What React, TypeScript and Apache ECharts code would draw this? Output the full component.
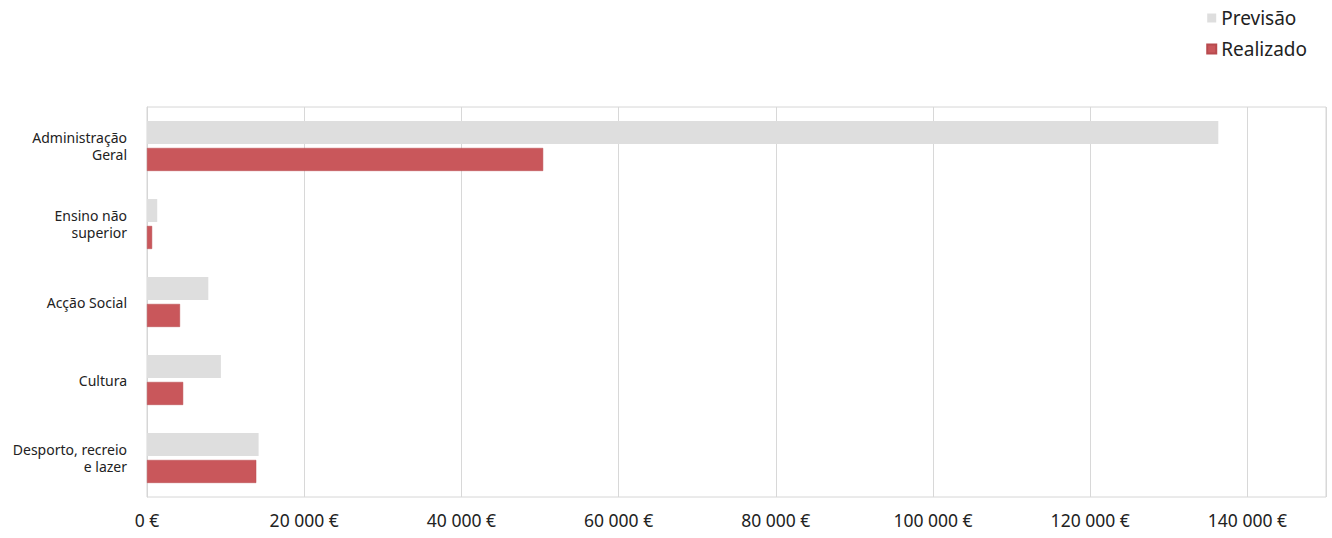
import React, { useEffect, useRef } from "react";
import * as echarts from "echarts";

const categories = [
  "Administração\nGeral",
  "Ensino não\nsuperior",
  "Acção Social",
  "Cultura",
  "Desporto, recreio\ne lazer",
];
const previsao = [136300, 1300, 7800, 9400, 14200];
const realizado = [50400, 650, 4200, 4600, 13900];
const seriesNames = ["Previsão", "Realizado"];

const FONT = "'Noto Sans', 'DejaVu Sans', sans-serif";

function fmt(v: number): string {
  return String(Math.round(v)).replace(/\B(?=(\d{3})+(?!\d))/g, " ") + " €";
}

export default function App() {
  const ref = useRef<HTMLDivElement>(null);
  useEffect(() => {
    if (!ref.current) return;
    const chart = echarts.init(ref.current, undefined, { renderer: "svg" });
    chart.setOption({
      animation: false,
      backgroundColor: "#ffffff",
      textStyle: { fontFamily: FONT },
      legend: {
        data: seriesNames,
        orient: "vertical",
        right: 20,
        top: 2,
        itemWidth: 9,
        itemHeight: 9,
        itemGap: 9,
        icon: "rect",
        textStyle: { fontSize: 19, lineHeight: 22, color: "#222", fontFamily: FONT },
      },
      grid: {
        left: 147,
        right: 6,
        top: 107,
        bottom: 41,
        show: true,
        borderColor: "#d6d6d6",
        borderWidth: 1,
        containLabel: false,
      },
      xAxis: {
        type: "value",
        min: 0,
        max: 150000,
        interval: 20000,
        axisLine: { show: false },
        axisTick: { show: false },
        splitLine: { show: true, lineStyle: { color: "#d8d8d8", width: 1 } },
        axisLabel: {
          margin: 14,
          fontSize: 17.5,
          color: "#222",
          fontFamily: FONT,
          showMaxLabel: false,
          formatter: (v: number) => (v > 140000 ? "" : fmt(v)),
        },
      },
      yAxis: {
        type: "category",
        data: categories,
        inverse: true,
        axisLine: { show: true, lineStyle: { color: "#d6d6d6" } },
        axisTick: { show: false },
        axisLabel: {
          margin: 20,
          fontSize: 14,
          lineHeight: 17,
          color: "#222",
          fontFamily: FONT,
          align: "right",
        },
      },
      series: [
        {
          name: seriesNames[0],
          type: "bar",
          data: previsao,
          barWidth: 23,
          barGap: "17%",
          itemStyle: { color: "#dedede" },
        },
        {
          name: seriesNames[1],
          type: "bar",
          data: realizado,
          barWidth: 23,
          barGap: "17%",
          itemStyle: { color: "#c9575b", borderColor: "#b84a4e", borderWidth: 0.5 },
        },
      ],
    });
    return () => chart.dispose();
  }, []);
  return (
    <div
      ref={ref}
      style={{ position: "absolute", left: 0, top: 0, width: 1332, height: 538 }}
    />
  );
}
